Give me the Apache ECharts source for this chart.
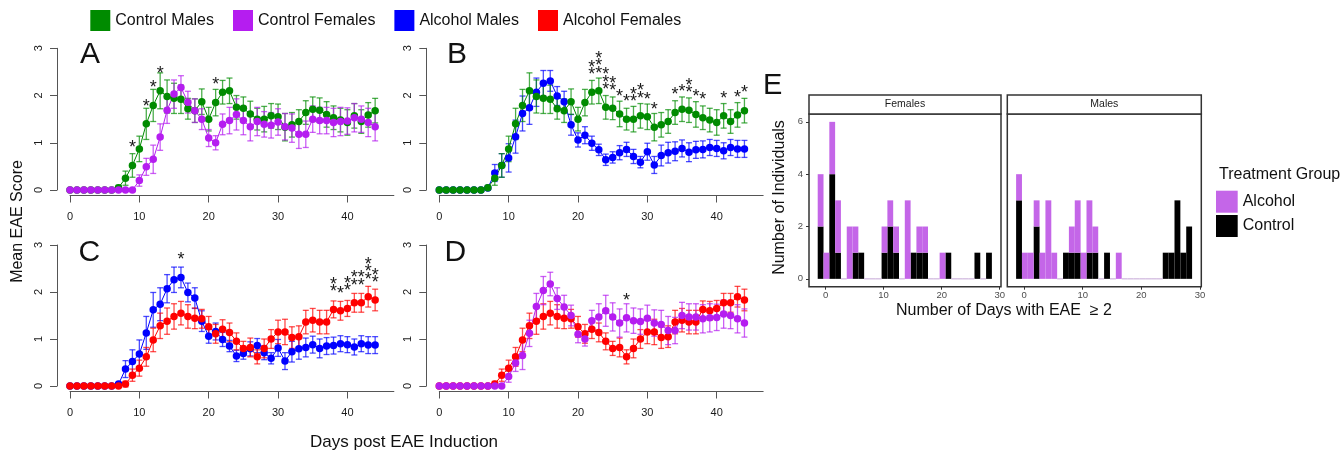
<!DOCTYPE html>
<html><head><meta charset="utf-8">
<script src="https://cdn.jsdelivr.net/npm/echarts@6/dist/echarts.min.js"></script>
<style>html,body{margin:0;padding:0;background:#fff}#c{width:1342px;height:451px}</style>
</head><body><div id="c"></div>
<script>
// ---------- data ----------
const days = [0,1,2,3,4,5,6,7,8,9,10,11,12,13,14,15,16,17,18,19,20,21,22,23,24,25,26,27,28,29,30,31,32,33,34,35,36,37,38,39,40,41,42,43,44];
const dayTicks = [0,10,20,30,40];

const controlMales = [0,0,0,0,0,0,0,0.05,0.25,0.52,0.87,1.40,1.79,2.10,1.98,1.94,1.92,1.72,1.68,1.87,1.50,1.85,2.07,2.10,1.75,1.73,1.61,1.50,1.50,1.57,1.55,1.33,1.38,1.45,1.64,1.71,1.69,1.60,1.53,1.48,1.43,1.57,1.45,1.59,1.68];
const controlMalesSE = [0,0,0,0,0,0,0,0.05,0.15,0.25,0.27,0.33,0.34,0.38,0.35,0.32,0.30,0.22,0.25,0.27,0.25,0.28,0.25,0.27,0.25,0.24,0.27,0.23,0.27,0.26,0.27,0.29,0.26,0.25,0.25,0.26,0.26,0.27,0.25,0.25,0.27,0.26,0.25,0.26,0.26];

const controlFemales = [0,0,0,0,0,0,0,0,0,0,0.20,0.49,0.65,1.12,1.69,2.03,2.17,1.86,1.68,1.50,1.10,1.00,1.39,1.47,1.60,1.47,1.34,1.45,1.39,1.37,1.44,1.34,1.31,1.18,1.18,1.50,1.47,1.47,1.43,1.45,1.46,1.53,1.50,1.43,1.34];
const controlFemalesSE = [0,0,0,0,0,0,0,0,0,0,0.12,0.18,0.30,0.28,0.28,0.30,0.25,0.23,0.25,0.22,0.18,0.15,0.22,0.28,0.33,0.30,0.30,0.30,0.27,0.27,0.28,0.28,0.30,0.30,0.28,0.28,0.28,0.28,0.30,0.30,0.28,0.30,0.28,0.30,0.30];

const alcoholMales = [0,0,0,0,0,0,0,0.04,0.36,0.52,0.68,1.13,1.62,1.74,2.07,2.26,2.31,1.99,1.87,1.38,1.06,1.16,0.99,0.85,0.64,0.69,0.79,0.86,0.71,0.59,0.81,0.53,0.73,0.79,0.82,0.88,0.80,0.85,0.86,0.90,0.88,0.83,0.90,0.87,0.87];
const alcoholMalesSE = [0,0,0,0,0,0,0,0.03,0.18,0.25,0.30,0.35,0.37,0.35,0.30,0.27,0.22,0.20,0.22,0.22,0.15,0.18,0.15,0.12,0.12,0.12,0.15,0.15,0.15,0.12,0.18,0.18,0.22,0.22,0.20,0.18,0.20,0.18,0.18,0.17,0.17,0.17,0.17,0.18,0.18];

const alcoholFemales = [0,0,0,0,0,0,0,0,0.04,0.23,0.38,0.62,0.98,1.28,1.38,1.48,1.55,1.48,1.44,1.43,1.26,1.11,1.21,1.14,0.95,0.80,0.82,0.62,0.80,1.00,1.15,1.15,1.03,1.05,1.36,1.40,1.36,1.36,1.63,1.60,1.65,1.77,1.77,1.90,1.83];
const alcoholFemalesSE = [0,0,0,0,0,0,0,0,0.06,0.13,0.17,0.20,0.25,0.27,0.28,0.27,0.25,0.25,0.22,0.20,0.22,0.20,0.20,0.20,0.18,0.15,0.20,0.15,0.20,0.20,0.25,0.27,0.23,0.23,0.25,0.25,0.25,0.25,0.18,0.20,0.17,0.20,0.20,0.22,0.23];

// significance marks (day, number of stars)
const sigDaysA = [9,11,12,13,21];
const sigCountA = [1,1,1,1,1];
const sigDaysB = [22,23,24,25,26,27,28,29,30,31,34,35,36,37,38,41,43,44];
const sigCountB = [2,3,3,2,1,1,2,2,1,1,1,1,2,1,1,1,1,1];
const sigDaysC = [16,38,39,40,41,42,43,44];
const sigCountC = [1,2,1,2,2,2,3,2];
const sigDaysD = [27];
const sigCountD = [1];

// panel E histogram (bin left edges, width 1 day)
const histBins = [-1.35,-0.35,0.65,1.65,2.65,3.65,4.65,5.65,6.65,7.65,8.65,9.65,10.65,11.65,12.65,13.65,14.65,15.65,16.65,17.65,18.65,19.65,20.65,21.65,22.65,23.65,24.65,25.65,26.65,27.65];
const femalesControl = [2,0,4,1,0,0,1,1,0,0,0,1,2,1,0,0,1,1,1,0,0,0,1,0,0,0,0,1,0,1];
const femalesAlcohol = [2,1,2,2,0,2,1,0,0,0,0,1,1,1,0,3,0,1,1,0,0,1,0,0,0,0,0,0,0,0];
const malesControl   = [3,0,0,2,0,0,0,0,1,1,1,0,1,1,0,1,0,0,0,0,0,0,0,0,0,1,1,3,1,2];
const malesAlcohol   = [1,1,1,1,1,3,1,0,0,1,2,1,2,1,0,0,0,1,0,0,0,0,0,0,0,0,0,0,0,0];
const histXTicks = [0,10,20,30];
const histYTicks = [0,2,4,6];

// ---------- style ----------
const FONT = "'Liberation Sans', Arial, Helvetica, sans-serif";
const C_CM = '#008B00', C_CF = '#B51DF0', C_AM = '#0000FF', C_AF = '#FF0000';
const C_ALC = '#C466E8', C_CTL = '#000000';
const BIN_W = 1;
const STAR_GAP = 0.45, STAR_STEP = 7.3, STAR_DY = 4, STAR_SIZE = 18;

function errRender(color){
  return function(params, api){
    const x = api.value(0), m = api.value(1), e = api.value(2);
    if (!(e > 0)) return null;
    const lo = api.coord([x, m - e]), hi = api.coord([x, m + e]);
    const w = 3, st = {stroke: color, lineWidth: 1.3, opacity: 0.7};
    return {type:'group', children:[
      {type:'line', shape:{x1:lo[0], y1:lo[1], x2:hi[0], y2:hi[1]}, style:st},
      {type:'line', shape:{x1:lo[0]-w, y1:lo[1], x2:lo[0]+w, y2:lo[1]}, style:st},
      {type:'line', shape:{x1:hi[0]-w, y1:hi[1], x2:hi[0]+w, y2:hi[1]}, style:st}
    ]};
  };
}
function starRender(params, api){
  const d = api.value(0), v = api.value(1), n = api.value(2);
  const p = api.coord([d, v]);
  const ch = [];
  for (let k = 0; k < n; k++) {
    ch.push({type:'text', style:{text:'*', x:p[0], y:p[1] + STAR_DY - k*STAR_STEP, fill:'#1a1a1a', fontSize:STAR_SIZE, fontFamily:FONT, align:'center', verticalAlign:'middle'}});
  }
  return {type:'group', children:ch};
}
function lineS(name, color, means, g){
  return {type:'line', name, xAxisIndex:g, yAxisIndex:g, data: days.map((d,i)=>[d, means[i]]),
    symbol:'circle', symbolSize:7.5, showSymbol:true, lineStyle:{color, width:1}, itemStyle:{color},
    clip:false, silent:true, emphasis:{disabled:true}, z:3};
}
function errS(name, color, means, se, g){
  return {type:'custom', name, xAxisIndex:g, yAxisIndex:g, data: days.map((d,i)=>[d, means[i], se[i]]),
    encode:{x:0, y:1}, renderItem: errRender(color), itemStyle:{color}, clip:false, silent:true, z:3};
}
function starS(sd, sc, m1, m2, g){
  return {type:'custom', name:'sig', xAxisIndex:g, yAxisIndex:g,
    data: sd.map((d,k)=>{ const i = days.indexOf(d); return [d, Math.max(m1[i], m2[i]) + STAR_GAP, sc[k]]; }),
    encode:{x:0, y:1}, renderItem: starRender, clip:false, silent:true, z:4};
}
function histRender(layer){
  return function(params, api){
    const left = api.value(0), c = api.value(1), a = api.value(2);
    let y0, y1, color;
    if (layer === 'control') {
      if (c <= 0) return null; y0 = 0; y1 = c; color = C_CTL;
    } else {
      if (c + a <= 0) {
        const q0 = api.coord([left, 0]), q1 = api.coord([left + BIN_W, 0]);
        return {type:'rect', shape:{x:q0[0], y:q0[1]-0.5, width:q1[0]-q0[0], height:1}, style:{fill:'#C4A6D6'}};
      }
      if (a <= 0) return null; y0 = c; y1 = c + a; color = C_ALC;
    }
    const p0 = api.coord([left, y0]), p1 = api.coord([left + BIN_W, y1]);
    return {type:'rect', shape:{x:p0[0], y:p1[1], width:p1[0]-p0[0], height:p0[1]-p1[1]}, style:{fill:color}};
  };
}
function histS(name, layer, ctl, alc, g){
  return {type:'custom', name, xAxisIndex:g, yAxisIndex:g, data: histBins.map((b,i)=>[b, ctl[i], alc[i]]),
    encode:{x:0, y:1}, renderItem: histRender(layer), itemStyle:{color: layer==='control'?C_CTL:C_ALC}, clip:false, silent:true};
}

// ---------- layout ----------
const PX = 6.935; // px per day
const grids = [
  {left:70,    top:48.3, width:46.7*PX, height:141.7},
  {left:439.3, top:48.3, width:46.7*PX, height:141.7},
  {left:70,    top:245,  width:46.7*PX, height:141},
  {left:439.3, top:245,  width:46.7*PX, height:141},
  {left:809,   top:114,  width:192,     height:172.7, show:true, borderColor:'#333', borderWidth:1.5, backgroundColor:'transparent'},
  {left:1007.3,top:114,  width:194,     height:172.7, show:true, borderColor:'#333', borderWidth:1.5, backgroundColor:'transparent'}
];
const axLine = {show:true, onZero:false, lineStyle:{color:'#555', width:1}};
const xAxes = [], yAxes = [];
for (let g = 0; g < 4; g++) {
  xAxes.push({type:'value', gridIndex:g, min:0, max:46.7, interval:10, offset:5.5,
    axisLine:axLine, axisTick:{show:true, length:7, customValues:dayTicks, lineStyle:{color:'#555'}},
    axisLabel:{customValues:dayTicks, fontSize:11, color:'#1a1a1a', margin:16, fontFamily:FONT},
    splitLine:{show:false}});
  yAxes.push({type:'value', gridIndex:g, min:0, max:3, interval:1, offset:13,
    axisLine:axLine, axisTick:{show:true, length:7, lineStyle:{color:'#555'}},
    axisLabel:{rotate:90, fontSize:11, color:'#1a1a1a', margin:13, fontFamily:FONT},
    splitLine:{show:false}});
}
for (let g = 4; g < 6; g++) {
  xAxes.push({type:'value', gridIndex:g, min:-2.85, max:30.22, offset:0, position:'bottom',
    axisLine:{show:false, onZero:false}, axisTick:{show:true, length:3, customValues:histXTicks, lineStyle:{color:'#333'}},
    axisLabel:{customValues:histXTicks, fontSize:9.5, color:'#4d4d4d', margin:4, fontFamily:FONT},
    splitLine:{show:false}});
  yAxes.push({type:'value', gridIndex:g, min:-0.3, max:6.3, position:'left',
    axisLine:{show:false, onZero:false}, axisTick:{show:g===4, length:3, customValues:histYTicks, lineStyle:{color:'#333'}},
    axisLabel:{show:g===4, customValues:histYTicks, fontSize:9.5, color:'#4d4d4d', margin:6, fontFamily:FONT},
    splitLine:{show:false}});
}

const series = [
  // A
  errS('Control Males', C_CM, controlMales, controlMalesSE, 0), lineS('Control Males', C_CM, controlMales, 0),
  errS('Control Females', C_CF, controlFemales, controlFemalesSE, 0), lineS('Control Females', C_CF, controlFemales, 0),
  starS(sigDaysA, sigCountA, controlMales, controlFemales, 0),
  // B
  errS('Alcohol Males', C_AM, alcoholMales, alcoholMalesSE, 1), lineS('Alcohol Males', C_AM, alcoholMales, 1),
  errS('Control Males', C_CM, controlMales, controlMalesSE, 1), lineS('Control Males', C_CM, controlMales, 1),
  starS(sigDaysB, sigCountB, controlMales, alcoholMales, 1),
  // C
  errS('Alcohol Males', C_AM, alcoholMales, alcoholMalesSE, 2), lineS('Alcohol Males', C_AM, alcoholMales, 2),
  errS('Alcohol Females', C_AF, alcoholFemales, alcoholFemalesSE, 2), lineS('Alcohol Females', C_AF, alcoholFemales, 2),
  starS(sigDaysC, sigCountC, alcoholMales, alcoholFemales, 2),
  // D
  errS('Alcohol Females', C_AF, alcoholFemales, alcoholFemalesSE, 3), lineS('Alcohol Females', C_AF, alcoholFemales, 3),
  errS('Control Females', C_CF, controlFemales, controlFemalesSE, 3), lineS('Control Females', C_CF, controlFemales, 3),
  starS(sigDaysD, sigCountD, alcoholFemales, controlFemales, 3),
  // E
  histS('Control', 'control', femalesControl, femalesAlcohol, 4),
  histS('Alcohol', 'alcohol', femalesControl, femalesAlcohol, 4),
  histS('Control', 'control', malesControl, malesAlcohol, 5),
  histS('Alcohol', 'alcohol', malesControl, malesAlcohol, 5)
];

const txt = (text, x, y, size, extra) => Object.assign({type:'text', x, y, silent:true,
  style:{text, fontSize:size, fontFamily:FONT, fill:'#111', align:'left', verticalAlign:'middle'}}, extra || {});

const graphic = [
  txt('A', 80, 55, 30), txt('B', 447, 55, 30), txt('C', 78.5, 253, 30), txt('D', 444.5, 253, 30),
  txt('E', 763, 85.5, 29),
  {type:'text', x:18, y:221.5, rotation:Math.PI/2, silent:true,
    style:{text:'Mean EAE Score', fontSize:16, fontFamily:FONT, fill:'#111', align:'center', verticalAlign:'middle'}},
  txt('Days post EAE Induction', 310, 442, 17),
  {type:'text', x:780, y:197.5, rotation:Math.PI/2, silent:true,
    style:{text:'Number of Individuals', fontSize:16, fontFamily:FONT, fill:'#111', align:'center', verticalAlign:'middle'}},
  txt('Number of Days with EAE  \u2265 2', 896, 311, 16),
  txt('Treatment Group', 1219, 175, 16),
  {type:'rect', silent:true, shape:{x:809, y:95, width:192, height:19}, style:{fill:'#fff', stroke:'#333', lineWidth:1.5}},
  {type:'rect', silent:true, shape:{x:1007.3, y:95, width:194, height:19}, style:{fill:'#fff', stroke:'#333', lineWidth:1.5}},
  {type:'text', x:905, y:104.5, silent:true, style:{text:'Females', fontSize:10.5, fontFamily:FONT, fill:'#1a1a1a', align:'center', verticalAlign:'middle'}},
  {type:'text', x:1104.3, y:104.5, silent:true, style:{text:'Males', fontSize:10.5, fontFamily:FONT, fill:'#1a1a1a', align:'center', verticalAlign:'middle'}}
];

const chart = echarts.init(document.getElementById('c'), null, {renderer:'canvas'});
chart.setOption({
  animation:false,
  backgroundColor:'#fff',
  textStyle:{fontFamily:FONT},
  legend:[
    {data:['Control Males','Control Females','Alcohol Males','Alcohol Females'], left:90.3, top:10, padding:0,
      icon:'rect', itemWidth:20, itemHeight:21, itemGap:19, selectedMode:false,
      textStyle:{fontSize:16, color:'#111', fontFamily:FONT}},
    {data:['Alcohol','Control'], orient:'vertical', left:1216, top:190.7, padding:0,
      icon:'rect', itemWidth:21.7, itemHeight:22, itemGap:2.3, selectedMode:false,
      textStyle:{fontSize:16, color:'#111', fontFamily:FONT}}
  ],
  grid:grids, xAxis:xAxes, yAxis:yAxes, series, graphic
});
</script></body></html>
